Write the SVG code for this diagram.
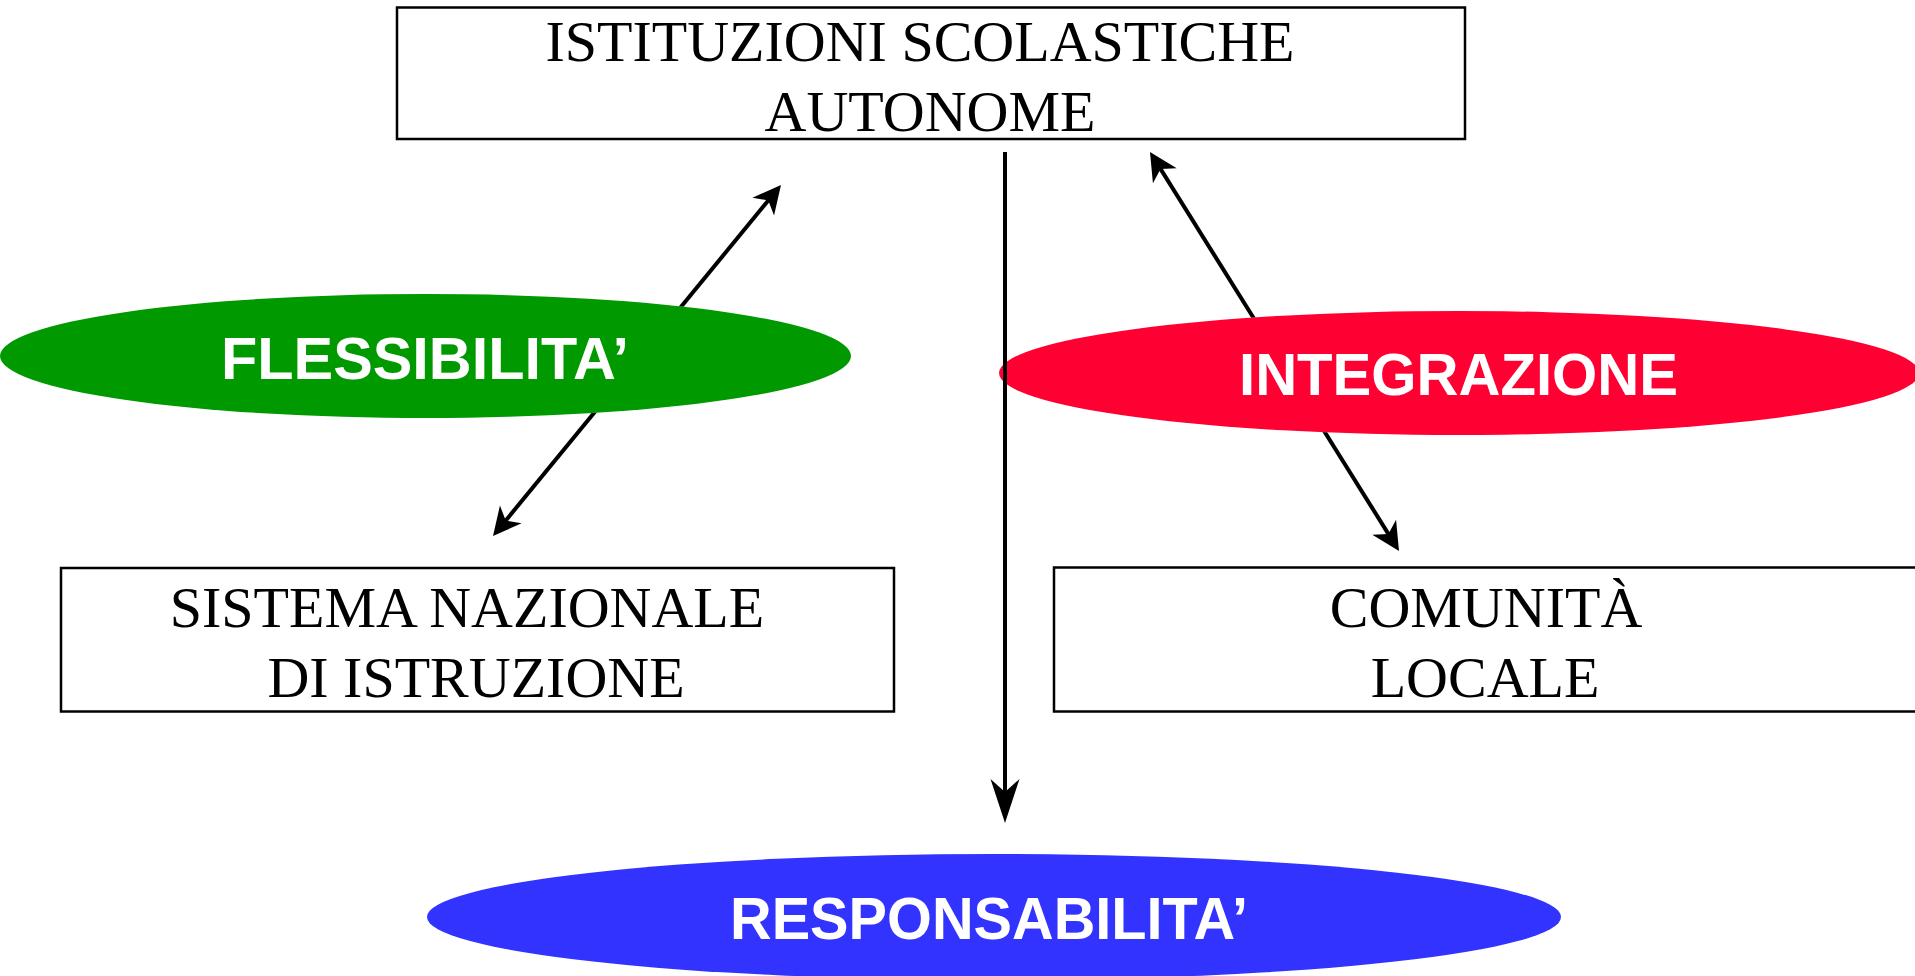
<svg xmlns="http://www.w3.org/2000/svg" width="1915" height="976" viewBox="0 0 1915 976">
<style>
.box{fill:#fff;stroke:#000;stroke-width:2.5}
.bt{font-family:"Liberation Serif","Times New Roman",serif;font-size:58px;fill:#000;text-anchor:middle}
.lt{font-family:"Liberation Sans",Arial,sans-serif;font-size:60px;font-weight:bold;fill:#fff}
.conn{stroke:#000;stroke-width:4;fill:none}
</style>
<defs>
<marker id="ahS" markerUnits="userSpaceOnUse" viewBox="-30 -16 32 32" markerWidth="32" markerHeight="32" refX="-14" refY="0" orient="auto-start-reverse">
<path d="M0,0 L-28,-14 L-20,0 L-28,14 Z" fill="#000"/>
</marker>
<marker id="ahL" markerUnits="userSpaceOnUse" viewBox="-46 -16 48 32" markerWidth="48" markerHeight="32" refX="-20" refY="0" orient="auto">
<path d="M0,0 L-44,-14.5 L-31,0 L-44,14.5 Z" fill="#000"/>
</marker>
<mask id="hideUnderEllipses" maskUnits="userSpaceOnUse" x="0" y="0" width="1915" height="976">
<rect x="0" y="0" width="1915" height="976" fill="#fff"/>
<ellipse cx="425.5" cy="356" rx="425.5" ry="62" fill="#000"/>
<ellipse cx="1459" cy="373" rx="460" ry="62" fill="#000"/>
</mask>
</defs>
<rect width="1915" height="976" fill="#fff"/>

<g id="node-istituzioni">
<rect class="box" x="397" y="7.5" width="1068" height="131.5"/>
<text class="bt" x="920" y="61">ISTITUZIONI SCOLASTICHE</text>
<text class="bt" x="930" y="131">AUTONOME</text>
</g>

<g id="node-sistema">
<rect class="box" x="61" y="568" width="833" height="143.5"/>
<text class="bt" x="467" y="627">SISTEMA NAZIONALE</text>
<text class="bt" x="476" y="697">DI ISTRUZIONE</text>
</g>

<g id="node-comunita">
<rect class="box" x="1054" y="567.5" width="870" height="144"/>
<text class="bt" x="1486" y="627">COMUNITÀ</text>
<text class="bt" x="1485" y="697">LOCALE</text>
</g>

<g id="node-flessibilita">
<ellipse cx="425.5" cy="356" rx="425.5" ry="62" fill="#009900"/>
<text class="lt" x="221" y="378.5" textLength="408" lengthAdjust="spacingAndGlyphs">FLESSIBILITA’</text>
</g>

<g id="node-integrazione">
<ellipse cx="1459" cy="373" rx="460" ry="62" fill="#FF0033"/>
<text class="lt" x="1239" y="394.5" textLength="439" lengthAdjust="spacingAndGlyphs">INTEGRAZIONE</text>
</g>

<g id="node-responsabilita">
<ellipse cx="994" cy="917" rx="567" ry="63" fill="#3333FF"/>
<text class="lt" x="730" y="939" textLength="518" lengthAdjust="spacingAndGlyphs">RESPONSABILITA’</text>
</g>

<g id="connectors">
<line class="conn" x1="501.9" y1="525.2" x2="772.1" y2="195.8" marker-start="url(#ahS)" marker-end="url(#ahS)" mask="url(#hideUnderEllipses)"/>
<line class="conn" x1="1157.4" y1="163.9" x2="1391.6" y2="539.1" marker-start="url(#ahS)" marker-end="url(#ahS)" mask="url(#hideUnderEllipses)"/>
<line class="conn" x1="1005" y1="152" x2="1005" y2="803" marker-end="url(#ahL)"/>
</g>
</svg>
